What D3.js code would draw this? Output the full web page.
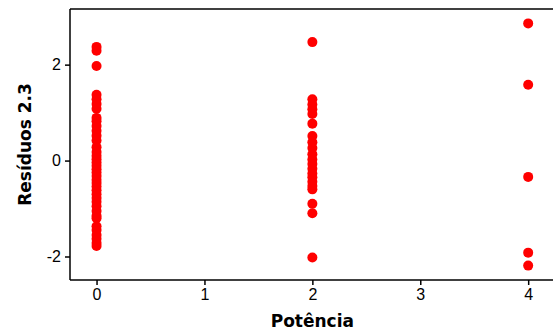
<!DOCTYPE html>
<html>
<head>
<meta charset="utf-8">
<script src="https://cdn.jsdelivr.net/npm/d3@7"></script>
<style>
  body { margin: 0; background: #fff; }
  svg { display: block; font-family: "DejaVu Sans", Verdana, sans-serif; }
</style>
</head>
<body>
<div id="chart"></div>
<script>
// residuals per power level
const potencia = [0, 2, 4];
const residuos0 = [2.37, 2.29, 1.97, 1.37, 1.28, 1.18, 1.08, 0.89, 0.82, 0.72, 0.62, 0.52,
    0.42, 0.28, 0.18, 0.1, 0.03, -0.04, -0.11, -0.18, -0.25, -0.32, -0.4, -0.47, -0.54,
    -0.62, -0.7, -0.78, -0.86, -0.95, -1.05, -1.15, -1.2, -1.37, -1.45, -1.55, -1.63, -1.72, -1.78];
const residuos2 = [2.47, 1.28, 1.17, 1.07, 0.97, 0.77, 0.51, 0.38, 0.26, 0.13, 0.02, -0.07,
    -0.17, -0.27, -0.35, -0.44, -0.53, -0.6, -0.9, -1.1, -2.02];
const residuos4 = [2.86, 1.58, -0.34, -1.92, -2.19];
const xTicks = [0, 1, 2, 3, 4];
const yTicks = [-2, 0, 2];

const width = 553, height = 336;
const margin = {top: 9, right: 0, bottom: 56, left: 70};

const points = [];
[residuos0, residuos2, residuos4].forEach((vals, i) => {
    vals.forEach(v => points.push({x: potencia[i], y: v}));
});

const svg = d3.select("#chart").append("svg")
    .attr("width", width)
    .attr("height", height);

const x = d3.scaleLinear()
    .domain([-0.246, 4.23])
    .range([margin.left, width - margin.right]);

const y = d3.scaleLinear()
    .domain([-2.49, 3.16])
    .range([height - margin.bottom, margin.top]);

// frame (top line)
svg.append("line")
    .attr("x1", margin.left).attr("x2", width)
    .attr("y1", margin.top).attr("y2", margin.top)
    .attr("stroke", "#000").attr("stroke-width", 1.5);

let xAxis = svg.append("g")
    .attr("transform", `translate(0,${height - margin.bottom})`)
    .call(d3.axisBottom(x).tickValues(xTicks).tickFormat(d3.format("d")).tickSizeOuter(0).tickSize(5).tickPadding(4));

let yAxis = svg.append("g")
    .attr("transform", `translate(${margin.left},0)`)
    .call(d3.axisLeft(y).tickValues(yTicks).tickFormat(d => d < 0 ? "-" + Math.abs(d) : d).tickSizeOuter(0).tickSize(5).tickPadding(4));

[xAxis, yAxis].forEach(g => {
    g.select(".domain").attr("stroke", "#000").attr("stroke-width", 1.5);
    g.selectAll(".tick line").attr("stroke", "#000").attr("stroke-width", 1.5);
    g.selectAll(".tick text").attr("fill", "#000").style("font-size", "16px");
});

// extend the x axis line across the full width
xAxis.select(".domain").attr("d", `M${margin.left},0H${width}`);
yAxis.select(".domain").attr("d", `M0,${margin.top}V${height - margin.bottom}`);

svg.append("text")
    .attr("x", x(2))
    .attr("y", 327)
    .attr("text-anchor", "middle")
    .style("font-size", "17px")
    .style("font-weight", "bold")
    .text("Potência");

svg.append("text")
    .attr("transform", `translate(31,${(margin.top + height - margin.bottom) / 2}) rotate(-90)`)
    .attr("text-anchor", "middle")
    .style("font-size", "17px")
    .style("font-weight", "bold")
    .text("Resíduos 2.3");

svg.append("g")
    .selectAll("circle")
    .data(points).enter()
    .append("circle")
    .attr("cx", d => x(d.x))
    .attr("cy", d => y(d.y))
    .attr("r", 5)
    .attr("fill", "#ff0000");
</script>
</body>
</html>
